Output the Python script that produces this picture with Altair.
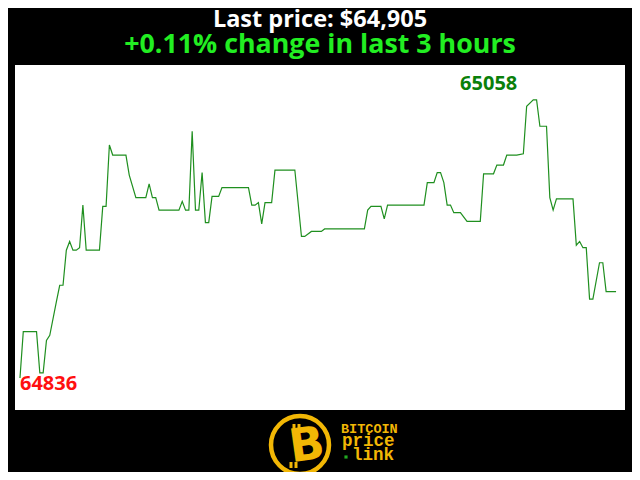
import altair as alt
import pandas as pd

# minutes since start of the 3-hour window
minutes = [0, 1, 5, 6, 7, 8, 9, 11, 12, 13, 14, 15, 16, 17, 18, 19, 20, 24, 25, 26,
           27, 28, 32, 33, 35, 38, 39, 40, 41, 42, 48, 49, 50, 51, 52, 53, 54, 55, 56, 57,
           58, 60, 61, 69, 70, 71, 72, 73, 74, 76, 77, 83, 85, 86, 88, 91, 92, 104, 105, 106,
           109, 110, 111, 122, 123, 125, 126, 127, 128, 129, 130, 131, 133, 135, 139, 140, 143, 144, 146, 147,
           150, 152, 153, 155, 156, 157, 159, 160, 161, 162, 167, 168, 169, 170, 171, 172, 173, 175, 176, 177,
           180]
prices = [64836, 64873, 64873, 64840, 64840, 64866, 64870, 64897, 64910, 64910, 64938, 64945, 64938, 64938, 64940, 64974, 64938, 64938, 64973, 64973,
          65022, 65014, 65014, 64998, 64980, 64980, 64991, 64980, 64980, 64970, 64970, 64977, 64970, 64970, 65033, 64970, 64970, 65000, 64960, 64960,
          64981, 64981, 64988, 64988, 64974, 64974, 64976, 64959, 64976, 64976, 65002, 65002, 64949, 64949, 64953, 64953, 64955, 64955, 64970, 64973,
          64973, 64963, 64974, 64974, 64992, 64992, 65000, 65000, 64992, 64974, 64974, 64968, 64968, 64961, 64961, 64999, 64999, 65006, 65006, 65014,
          65014, 65015, 65053, 65058, 65058, 65037, 65037, 64980, 64970, 64979, 64979, 64942, 64945, 64940, 64940, 64899, 64899, 64928, 64928, 64905,
          64905]

title_text = "Last price: $64,905"
subtitle_text = "+0.11% change in last 3 hours"
logo_lines = ["BITCOIN", "price", "link"]

df = pd.DataFrame({"t": minutes, "price": prices})
imin = prices.index(min(prices))
imax = prices.index(max(prices))
df_min = df.iloc[[imin]].assign(label=lambda d: d["price"].astype(str))
df_max = df.iloc[[imax]].assign(label=lambda d: d["price"].astype(str))

W, H = 610, 345
xs = alt.Scale(domain=[-1.5, 182.7], nice=False, zero=False)
ys = alt.Scale(domain=[64810.4, 65085.9], nice=False, zero=False)
noax = None

line = alt.Chart(df).mark_line(color="#1f8f1f", strokeWidth=1.2, interpolate="linear").encode(
    x=alt.X("t:Q", scale=xs, axis=noax),
    y=alt.Y("price:Q", scale=ys, axis=noax),
)

min_lab = alt.Chart(df_min).mark_text(
    color="#ff1010", font="Open Sans", fontWeight="bold", fontSize=20,
    align="left", baseline="alphabetic", dy=12, dx=0
).encode(x=alt.X("t:Q", scale=xs, axis=noax), y=alt.Y("price:Q", scale=ys, axis=noax), text="label:N")

max_lab = alt.Chart(df_max).mark_text(
    color="#0a800a", font="Open Sans", fontWeight="bold", fontSize=20,
    align="right", baseline="alphabetic", dy=-10, dx=-16
).encode(x=alt.X("t:Q", scale=xs, axis=noax), y=alt.Y("price:Q", scale=ys, axis=noax), text="label:N")

gold = "#f2b705"
logo_df = pd.DataFrame({"k": [0]})
ring = alt.Chart(logo_df).mark_point(
    shape="circle", size=3364, filled=False, stroke=gold, strokeWidth=4.5, fill="black", fillOpacity=1, opacity=1
).encode(x=alt.value(285), y=alt.value(380))
bee = alt.Chart(logo_df).mark_text(
    text="B", font="DejaVu Sans", fontWeight="bold", fontSize=46,
    color=gold, align="center", baseline="middle", angle=352
).encode(x=alt.value(292), y=alt.value(381))
tick_df = pd.DataFrame({"x": [279, 284, 276, 281], "y": [359, 359, 397, 397], "y2": [366, 366, 403, 403]})
ticks = alt.Chart(tick_df).mark_rule(color=gold, strokeWidth=3).encode(
    x=alt.X("x:Q", scale=None, axis=noax),
    y=alt.Y("y:Q", scale=None, axis=noax),
    y2="y2:Q",
)

txt1 = alt.Chart(logo_df).mark_text(
    text=logo_lines[0], font="Liberation Mono", fontWeight="bold", fontSize=13.5,
    color=gold, align="left", baseline="alphabetic"
).encode(x=alt.value(326), y=alt.value(368))
txt2 = alt.Chart(logo_df).mark_text(
    text=logo_lines[1], font="Liberation Mono", fontWeight="bold", fontSize=17.5,
    color=gold, align="left", baseline="alphabetic"
).encode(x=alt.value(327), y=alt.value(381))
txt3 = alt.Chart(logo_df).mark_text(
    text=logo_lines[2], font="Liberation Mono", fontWeight="bold", fontSize=17.5,
    color=gold, align="left", baseline="alphabetic"
).encode(x=alt.value(337), y=alt.value(395))
dot = alt.Chart(logo_df).mark_square(size=10, color="#22aa22", opacity=1).encode(
    x=alt.value(331), y=alt.value(392))

chart = alt.layer(line, min_lab, max_lab, ring, ticks, bee, txt1, txt2, txt3, dot).properties(
    width=W, height=H,
    title=alt.TitleParams(
        text=title_text, subtitle=subtitle_text, anchor="middle",
        font="Open Sans", fontSize=23.5, fontWeight="bold", color="white",
        subtitleFont="Open Sans", subtitleFontSize=26.8, subtitleFontWeight="bold",
        subtitleColor="#22ee22", offset=6, subtitlePadding=1,
    ),
    autosize=alt.AutoSizeParams(type="none"),
    padding={"left": 7, "top": 57, "right": 7, "bottom": 62},
    background="black",
).configure_view(fill="white", stroke=None)

chart.save("out.html", embed_options={"renderer": "svg", "actions": False})
